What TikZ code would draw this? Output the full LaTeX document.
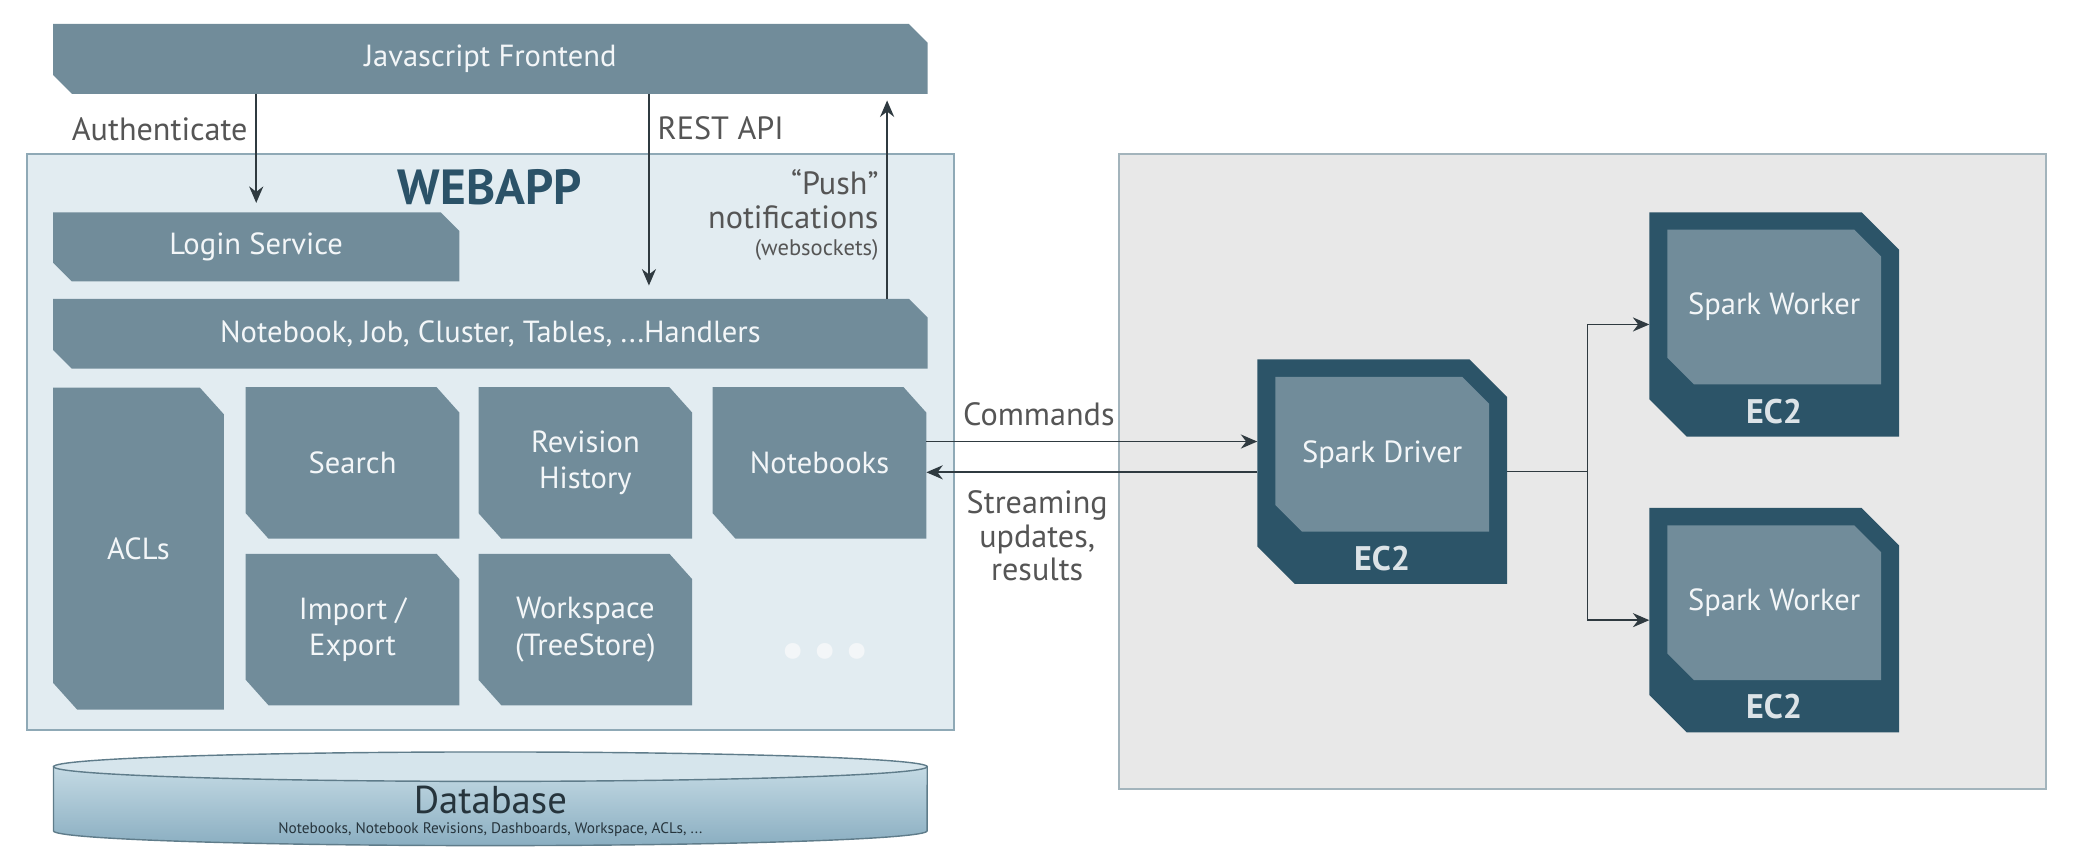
\documentclass[tikz,border=0pt]{standalone}
\usepackage{fontspec}
\setmainfont{PT Sans}
\usetikzlibrary{arrows.meta,positioning,backgrounds}

\definecolor{boxfill}{HTML}{718C9A}
\definecolor{ecfill}{HTML}{2C5468}
\definecolor{webfill}{HTML}{E2ECF1}
\definecolor{webline}{HTML}{8FA9B6}
\definecolor{clusterfill}{HTML}{E8E8E8}
\definecolor{clusterline}{HTML}{A3B4BC}
\definecolor{titleblue}{HTML}{2B5268}
\definecolor{labelgray}{HTML}{555555}
\definecolor{linedark}{HTML}{2F3A40}
\definecolor{boxtext}{HTML}{F3F6F8}
\definecolor{ectext}{HTML}{DCE3E7}
\definecolor{dbtop}{HTML}{C4DAE4}
\definecolor{dbbot}{HTML}{8AAEC1}
\definecolor{dbline}{HTML}{5F7C8A}
\definecolor{dbtext}{HTML}{26343C}

% chamfered fill behind a node: node, colour, x cut, y cut
\newcommand\cutfill[4]{%
  \fill[#2] (#1.north west) -- ([xshift=-#3]#1.north east) -- ([yshift=-#4]#1.north east)
    -- (#1.south east) -- ([xshift=#3]#1.south west) -- ([yshift=#4]#1.south west) -- cycle;}

\begin{document}
\begin{tikzpicture}[x=0.02cm, y=-0.02cm, >={Stealth[length=7pt,width=6pt]},
    box/.style={inner sep=0pt, align=center, text=boxtext, font=\fontsize{13}{15.5}\selectfont},
    bar/.style={box, minimum width=13.06cm, minimum height=1.03cm},
    tile/.style={box, minimum width=3.18cm, minimum height=2.25cm},
    panel/.style={inner sep=0pt, line width=0.85pt},
    ec2/.style={inner sep=0pt, minimum width=3.72cm, minimum height=3.34cm},
    ec2core/.style={box, minimum width=3.18cm, minimum height=2.3cm, below=0.26cm of #1.north},
    ec2label/.style={inner sep=0pt, text=ectext, font=\bfseries\fontsize{14.5}{15}\selectfont},
    link/.style={draw=linedark, line width=0.7pt, ->},
    lbl/.style={text=labelgray, font=\fontsize{13.7}{14.4}\selectfont}]
    \useasboundingbox (0,0) rectangle (1568,644);
    % Panels
    \begin{scope}[on background layer]
        \node[panel, fill=webfill, draw=webline, minimum width=13.86cm, minimum height=8.62cm] (webapp) at (366.5,330.5) {};
        \node[panel, fill=clusterfill, draw=clusterline, minimum width=13.86cm, minimum height=9.5cm] (cluster) at (1182.5,352.5) {};
    \end{scope}
    % Webapp nodes
    \node[bar] (js) at (366.5,44) {Javascript Frontend};
    \node[text=titleblue, font=\bfseries\fontsize{21}{24}\selectfont] (webtitle) at (366,140) {WEBAPP};
    \node[box, minimum width=6.06cm, minimum height=1.02cm] (login) at (191.5,184.5) {Login Service};
    \node[bar] (handlers) at (366.5,249.5) {Notebook, Job, Cluster, Tables, ...Handlers};
    \node[box, minimum width=2.54cm, minimum height=4.8cm] (acls) at (103.5,410) {ACLs};
    \node[tile] (search) at (263.5,346) {Search};
    \node[tile] (revision) at (437.5,346) {Revision\\History};
    \node[tile] (notebooks) at (612.5,346) {Notebooks};
    \node[tile] (import) at (263.5,470.5) {Import /\\Export};
    \node[tile] (workspace) at (437.5,470.5) {Workspace\\(TreeStore)};
    \node[box, font=\bfseries\fontsize{22}{22}\selectfont] (more) at (617,490) {•\,•\,•};
    % Spark nodes
    \node[ec2] (driver) at (1033,352.5) {};
    \node[ec2core=driver] (drivercore) {Spark Driver};
    \node[ec2label] (driverec2) at ([yshift=0.38cm]driver.south) {EC2};
    \node[ec2] (worker1) at (1326,242.5) {};
    \node[ec2core=worker1] (worker1core) {Spark Worker};
    \node[ec2label] (worker1ec2) at ([yshift=0.38cm]worker1.south) {EC2};
    \node[ec2] (worker2) at (1326,463.5) {};
    \node[ec2core=worker2] (worker2core) {Spark Worker};
    \node[ec2label] (worker2ec2) at ([yshift=0.38cm]worker2.south) {EC2};
    % Chamfered shapes
    \begin{scope}[on background layer]
        \cutfill{js}{boxfill}{0.28cm}{0.28cm}
        \cutfill{login}{boxfill}{0.28cm}{0.28cm}
        \cutfill{handlers}{boxfill}{0.28cm}{0.28cm}
        \cutfill{acls}{boxfill}{0.36cm}{0.4cm}
        \cutfill{search}{boxfill}{0.34cm}{0.38cm}
        \cutfill{revision}{boxfill}{0.34cm}{0.38cm}
        \cutfill{notebooks}{boxfill}{0.34cm}{0.38cm}
        \cutfill{import}{boxfill}{0.34cm}{0.38cm}
        \cutfill{workspace}{boxfill}{0.34cm}{0.38cm}
        \cutfill{driver}{ecfill}{0.56cm}{0.56cm}
        \cutfill{worker1}{ecfill}{0.56cm}{0.56cm}
        \cutfill{worker2}{ecfill}{0.56cm}{0.56cm}
        \cutfill{drivercore}{boxfill}{0.4cm}{0.4cm}
        \cutfill{worker1core}{boxfill}{0.4cm}{0.4cm}
        \cutfill{worker2core}{boxfill}{0.4cm}{0.4cm}
    \end{scope}
    % Database
    \shade[top color=dbtop, bottom color=dbbot, draw=dbline, line width=0.6pt] (40,573) -- (40,621)
        arc[start angle=180, end angle=360, x radius=6.53cm, y radius=0.22cm] -- (693,573) -- cycle;
    \filldraw[fill=dbtop!70!white, draw=dbline, line width=0.6pt] (366.5,573) ellipse[x radius=6.53cm, y radius=0.22cm];
    \node[text=dbtext, font=\fontsize{16.5}{17}\selectfont] (db) at (366.5,598) {Database};
    \node[text=dbtext, font=\fontsize{6.5}{7}\selectfont] (dbnote) at (366.5,620) {Notebooks, Notebook Revisions, Dashboards, Workspace, ACLs, ...};
    % Frontend links
    \coordinate (restx) at (485,0);
    \coordinate (pushx) at (663,0);
    \draw[link, shorten >=0.14cm] (js.south -| login.north) -- node[lbl, left, pos=0.3] (authlbl) {Authenticate} (login.north);
    \draw[link, shorten >=0.2cm] (js.south -| restx) -- node[lbl, right, pos=0.17] (restlbl) {REST API} (handlers.north -| restx);
    \draw[link, shorten >=0.1cm] (handlers.north -| pushx) -- node[lbl, left, align=right, pos=0.41] (pushlbl)
        {“Push”\\notifications\\[-3pt]{\fontsize{9.6}{11}\selectfont (websockets)}} (js.south -| pushx);
    % Cluster links
    \draw[link] ([yshift=0.32cm]notebooks.east) -- node[lbl, above, pos=0.34, yshift=0.1cm] (cmdlbl) {Commands} ([yshift=0.32cm]notebooks.east -| driver.west);
    \draw[link] ([yshift=-0.14cm]notebooks.east -| driver.west) -- node[lbl, below, align=center, pos=0.665, yshift=-0.14cm] (streamlbl)
        {Streaming\\updates,\\results} ([yshift=-0.14cm]notebooks.east);
    \draw[link] (driver.east) -- ++(60,0) coordinate (fork) |- (worker1.west);
    \draw[link] (fork) |- (worker2.west);
\end{tikzpicture}
\end{document}
